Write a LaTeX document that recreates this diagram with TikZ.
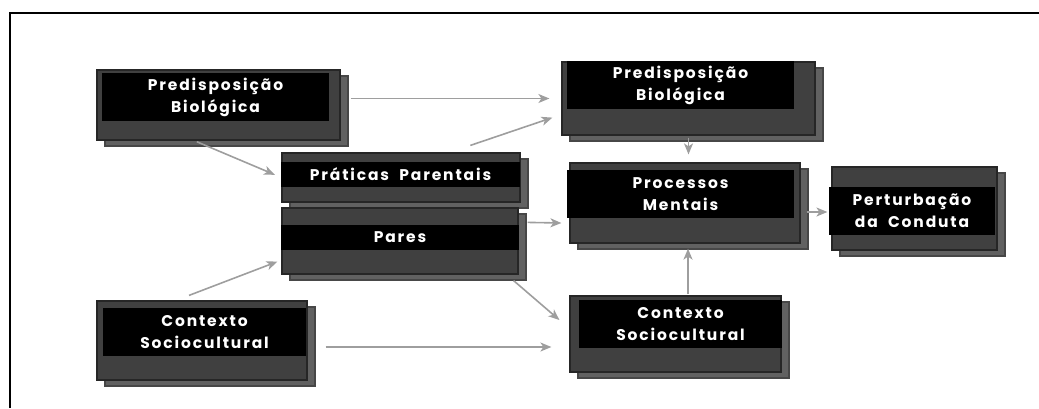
\documentclass[tikz,border=0pt]{standalone}
\usepackage{fontspec}
\newfontfamily\boxfont{Poppins}[LetterSpace=12]
\usetikzlibrary{arrows.meta, shadows, calc}

\begin{document}
\begin{tikzpicture}[
x = 1pt, y = -1pt, % pixel grid, y going down
> = {Stealth[length=11pt, width=9pt, inset=3pt]}, % arrow head style
arr/.style = {->, draw = black!38, line width = 1.6pt},
semithick % line style
]
\tikzstyle{block}=[
draw = black!85,
line width = 1.2pt,
fill = black!75,
inner sep = 0pt,
copy shadow = {shadow xshift = 8pt, shadow yshift = -6pt, fill = black!62, draw = black!72}
]
\tikzstyle{boxlabel}=[
fill = black,
text = white,
inner sep = 0pt,
align = center,
font = \boxfont\bfseries\fontsize{15.5}{22}\selectfont
]
\useasboundingbox (0,0) rectangle (1039,408);
\draw[line width = 1.5pt] (10,408) -- (10,13) -- (1039,13);
% grey blocks
\node[block, minimum width = 243pt, minimum height = 70pt] (pbA) at (218.5,105) {};
\node[block, minimum width = 238pt, minimum height = 49pt] (prat) at (401,177.5) {};
\node[block, minimum width = 236pt, minimum height = 66pt] (pares) at (400,241) {};
\node[block, minimum width = 210pt, minimum height = 79pt] (ctxA) at (202,340.5) {};
\node[block, minimum width = 253pt, minimum height = 73pt] (pbB) at (688.5,98.5) {};
\node[block, minimum width = 230pt, minimum height = 80pt] (proc) at (685,203) {};
\node[block, minimum width = 165pt, minimum height = 83pt] (pert) at (914.5,208.5) {};
\node[block, minimum width = 211pt, minimum height = 76pt] (ctxB) at (675.5,334) {};
% black labels
\node[boxlabel, minimum width = 227pt, minimum height = 48pt] (pbA-t) at (215.5,97) {Predisposição\\Biológica};
\node[boxlabel, minimum width = 239pt, minimum height = 25pt] (prat-t) at (400.5,174.5) {Práticas\ \ Parentais};
\node[boxlabel, minimum width = 238pt, minimum height = 25pt] (pares-t) at (400,237.5) {Pares};
\node[boxlabel, minimum width = 203pt, minimum height = 48pt] (ctxA-t) at (204.5,332) {Contexto\\Sociocultural};
\node[boxlabel, minimum width = 227pt, minimum height = 48pt] (pbB-t) at (680.5,85) {Predisposição\\Biológica};
\node[boxlabel, minimum width = 227pt, minimum height = 48pt] (proc-t) at (680.5,194) {Processos\\Mentais};
\node[boxlabel, minimum width = 166pt, minimum height = 48pt] (pert-t) at (912,211) {Perturbação\\da\ \ Conduta};
\node[boxlabel, minimum width = 203pt, minimum height = 48pt] (ctxB-t) at (680.5,324) {Contexto\\Sociocultural};
% connectors
\draw[arr, shorten <= 10pt, shorten >= 12pt] (pbA.east |- pbB.west) -- (pbB.west);
\draw[arr, shorten <= 3pt, shorten >= 7pt] ($(pbA.south west)!0.4!(pbA.south east)$) -- (prat.west);
\draw[arr] ($(prat.north west)!0.79!(prat.north east)+(0,-7)$) -- ($(pbB.south west)+(-9,-18)$);
\draw[arr, shorten <= 2pt, shorten >= 8pt] (pbB.south) -- (pbB.south |- proc.north);
\draw[arr] ($(pares.north east)+(9,15)$) -- ($(proc.west)+(-8,20)$);
\draw[arr] ($(proc.east)+(6,9)$) -- ($(pert.west)+(-4,3.5)$);
\draw[arr] ($(pares.south east)+(-5,6)$) -- ($(ctxB.west)+(-10,-14)$);
\draw[arr] ($(ctxB.north)+(12.5,-1)$) -- ($(proc.south)+(3,5)$);
\draw[arr] ($(ctxA.north)+(-13,-5)$) -- ($(pares.south west)+(-4,-13)$);
\draw[arr] ($(ctxA.east)+(18,6.5)$) -- ($(ctxB.west)+(-18,13)$);
\end{tikzpicture}
\end{document}
